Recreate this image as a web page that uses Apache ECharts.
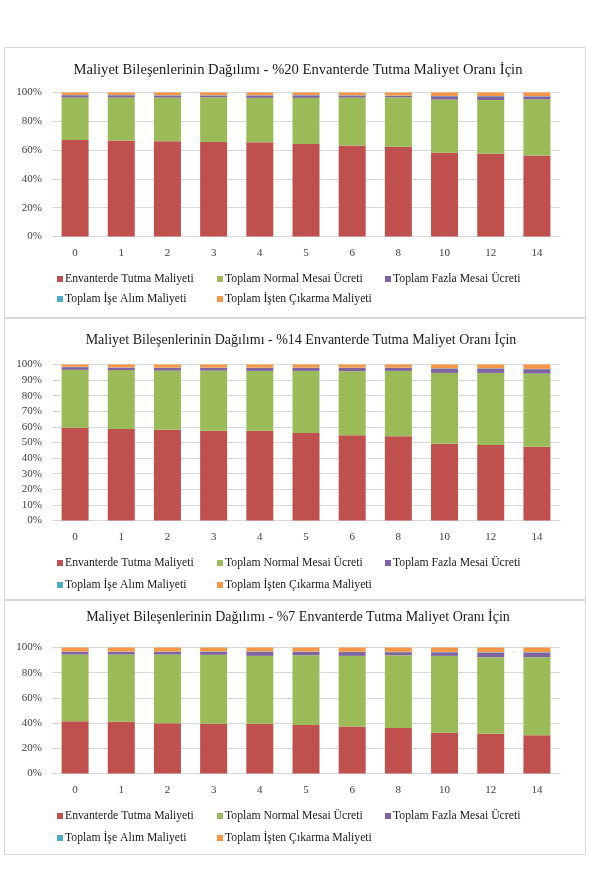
<!DOCTYPE html>
<html>
<head>
<meta charset="utf-8">
<script src="https://cdn.jsdelivr.net/npm/echarts@6/dist/echarts.min.js"></script>
<style>
html,body{margin:0;padding:0;background:#fff;}
#c{width:589px;height:873px;}
</style>
</head>
<body>
<div id="c"></div>
<script>
var categories = ['0','1','2','3','4','5','6','8','10','12','14'];
var seriesNames = ['Envanterde Tutma Maliyeti','Toplam Normal Mesai Ücreti','Toplam Fazla Mesai Ücreti','Toplam İşe Alım Maliyeti','Toplam İşten Çıkarma Maliyeti'];
var titles = [
  'Maliyet Bileşenlerinin Dağılımı - %20 Envanterde Tutma Maliyet Oranı İçin',
  'Maliyet Bileşenlerinin Dağılımı - %14 Envanterde Tutma Maliyet Oranı İçin',
  'Maliyet Bileşenlerinin Dağılımı - %7 Envanterde Tutma Maliyet Oranı İçin'
];

// Chart 1: %20
var c1_envanter = [67.1, 66.6, 66.1, 65.7, 65.5, 64.3, 63.2, 62.4, 58.2, 57.4, 56.3];
var c1_normal   = [29.4, 29.9, 30.4, 31.0, 30.8, 32.0, 33.3, 34.3, 36.9, 37.4, 39.0];
var c1_fazla    = [1.6, 1.6, 1.4, 1.2, 1.6, 1.7, 1.4, 1.0, 2.3, 2.6, 2.0];
var c1_alim     = [0.2, 0.2, 0.2, 0.2, 0.2, 0.2, 0.2, 0.2, 0.2, 0.2, 0.2];
var c1_cikarma  = [1.7, 1.7, 1.9, 1.9, 1.9, 1.8, 1.9, 2.1, 2.4, 2.4, 2.5];

// Chart 2: %14
var c2_envanter = [59.4, 58.7, 58.1, 57.6, 57.6, 56.1, 54.6, 54.0, 49.2, 48.4, 47.3];
var c2_normal   = [37.2, 37.7, 38.0, 38.5, 38.3, 39.8, 41.1, 41.9, 45.4, 46.2, 46.9];
var c2_fazla    = [1.7, 1.5, 1.7, 1.7, 1.9, 1.9, 2.1, 1.9, 2.8, 2.8, 2.8];
var c2_alim     = [0.2, 0.2, 0.2, 0.2, 0.2, 0.2, 0.2, 0.2, 0.2, 0.2, 0.2];
var c2_cikarma  = [1.5, 1.9, 2.0, 2.0, 2.0, 2.0, 2.0, 2.0, 2.4, 2.4, 2.8];

// Chart 3: %7
var c3_envanter = [41.5, 41.0, 39.9, 39.4, 39.4, 38.4, 37.3, 36.2, 32.3, 31.5, 30.4];
var c3_normal   = [52.9, 53.4, 54.5, 54.8, 54.0, 55.5, 56.1, 57.7, 61.1, 60.8, 61.9];
var c3_fazla    = [2.1, 2.1, 2.1, 2.4, 3.2, 2.6, 3.0, 2.4, 2.8, 3.7, 3.7];
var c3_alim     = [0.3, 0.3, 0.3, 0.3, 0.3, 0.3, 0.3, 0.3, 0.3, 0.3, 0.3];
var c3_cikarma  = [3.2, 3.2, 3.2, 3.1, 3.1, 3.2, 3.3, 3.4, 3.5, 3.7, 3.7];

var yTicks1 = 20, yTicks2 = 10, yTicks3 = 20;

var charts = [
  {data:[c1_envanter,c1_normal,c1_fazla,c1_alim,c1_cikarma], interval:yTicks1, box:[4,47,581,270], titleTop:58, titleX:293, titleSize:14.6, grid:{top:92.5,height:144}, leg:[268,288]},
  {data:[c2_envanter,c2_normal,c2_fazla,c2_alim,c2_cikarma], interval:yTicks2, box:[4,318,581,281], titleTop:328, titleX:296, titleSize:14, grid:{top:364.5,height:156}, leg:[552,574]},
  {data:[c3_envanter,c3_normal,c3_fazla,c3_alim,c3_cikarma], interval:yTicks3, box:[4,600,581,254], titleTop:605, titleX:293, titleSize:14, grid:{top:647.5,height:126}, leg:[805,827]}
];
var colors = ['#C0504D','#9BBB59','#8064A2','#4BACC6','#F79646'];
var font = '"Liberation Serif","Times New Roman",serif';
var legendPos = [[52,0],[212,0],[380,0],[52,1],[212,1]];

var option = {
  animation:false,
  color:colors,
  title:[], grid:[], xAxis:[], yAxis:[], series:[], legend:[], graphic:[]
};
charts.forEach(function(ch, i){
  option.graphic.push({type:'rect', shape:{x:ch.box[0]+0.5,y:ch.box[1]+0.5,width:ch.box[2],height:ch.box[3]}, style:{fill:'none',stroke:'#d9d9d9',lineWidth:1}, z:-1});
  option.title.push({text:titles[i], left:ch.titleX, textAlign:'center', top:ch.titleTop, textStyle:{fontFamily:font,fontSize:ch.titleSize,fontWeight:'normal',color:'#1a1a1a'}});
  option.grid.push({left:52, right:29, top:ch.grid.top, height:ch.grid.height});
  option.xAxis.push({type:'category', gridIndex:i, data:categories,
    axisLine:{lineStyle:{color:'#d9d9d9'}}, axisTick:{show:false},
    axisLabel:{fontFamily:font,fontSize:11,color:'#404040',margin:11}});
  option.yAxis.push({type:'value', gridIndex:i, min:0, max:100, interval:ch.interval,
    axisLine:{show:false}, axisTick:{show:false},
    splitLine:{lineStyle:{color:'#d9d9d9'}},
    axisLabel:{fontFamily:font,fontSize:11,color:'#404040',margin:10,formatter:'{value}%'}});
  ch.data.forEach(function(arr, k){
    option.series.push({type:'bar', name:seriesNames[k], xAxisIndex:i, yAxisIndex:i, stack:'s'+i,
      data:arr, barWidth:27, itemStyle:{color:colors[k]}});
  });
  legendPos.forEach(function(p, k){
    option.legend.push({data:[seriesNames[k]], left:p[0], top:ch.leg[p[1]], icon:'rect', itemWidth:6, itemHeight:6,
      textStyle:{fontFamily:font,fontSize:11.7,color:'#1a1a1a',padding:[0,0,0,-3]}, selectedMode:false});
  });
});
var chart = echarts.init(document.getElementById('c'), null, {renderer:'canvas'});
chart.setOption(option);
</script>
</body>
</html>
